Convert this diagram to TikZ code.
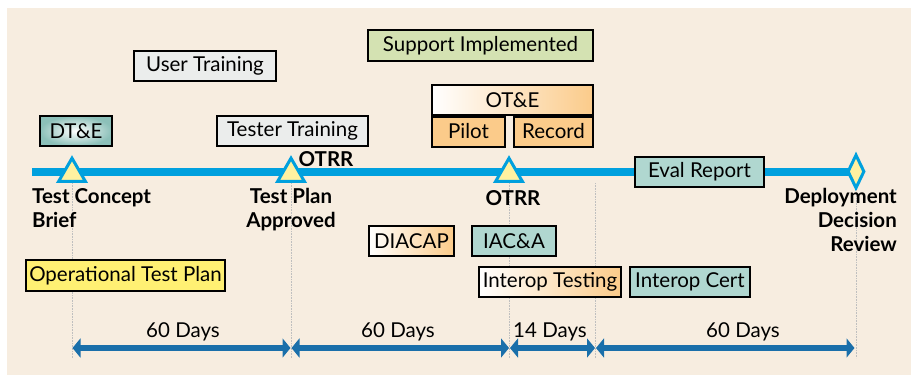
\documentclass[tikz,border=0pt]{standalone}
\usepackage{fontspec}
\setmainfont{Lato}
\usepackage{xcolor}
\usetikzlibrary{positioning, arrows.meta, shapes.geometric}
\definecolor{PaperBeige}{RGB}{247,237,224}
\definecolor{LineCyan}{RGB}{0,160,222}
\definecolor{SpanBlue}{RGB}{26,111,170}
\definecolor{MarkYellow}{RGB}{255,241,160}
\definecolor{BoxTeal}{RGB}{176,215,208}
\definecolor{DeepTeal}{RGB}{140,192,185}
\definecolor{BoxGrey}{RGB}{235,237,236}
\definecolor{BoxGreen}{RGB}{212,226,178}
\definecolor{BoxOrange}{RGB}{251,203,138}
\definecolor{BoxYellow}{RGB}{255,240,115}
\newcommand\tlfont{\fontsize{20.5}{24}\selectfont}
\tikzset{
  tbox/.style={draw=black, line width=2pt, inner sep=0pt, minimum height=30pt, font=\tlfont, align=center},
  greybox/.style={tbox, fill=BoxGrey},
  tealbox/.style={tbox, fill=BoxTeal},
  orbox/.style={tbox, fill=BoxOrange},
  fadebox/.style={tbox, left color=white, right color=BoxOrange},
  timeline/.style={line width=8pt, LineCyan},
  tri/.style={regular polygon, regular polygon sides=3, minimum size=31pt, inner sep=0pt,
    draw=LineCyan, line width=3pt, fill=MarkYellow},
  dia/.style={diamond, minimum width=17pt, minimum height=34pt, inner sep=0pt,
    draw=LineCyan, line width=3pt, fill=MarkYellow},
  mslabel/.style={font=\tlfont\bfseries, inner sep=0pt},
  daylabel/.style={font=\tlfont, inner sep=0pt},
  guide/.style={densely dotted, line width=0.6pt, black!25},
  span/.style={{Triangle[width=19pt,length=8pt]}-{Triangle[width=19pt,length=8pt]}, line width=6pt, SpanBlue,
    shorten <=0.5pt, shorten >=0.5pt},
}

\begin{document}
\begin{tikzpicture}[x=1pt, y=-1pt]
  \useasboundingbox (0,0) rectangle (911,375);
  \fill[PaperBeige] (7,8) rectangle (911,375);

  % time line and milestones
  \coordinate (tstart) at (32,172);
  \coordinate (tend) at (856,172);
  \draw[timeline] (tstart) -- (tend);
  \node[tri] (m1) at (72,173.7) {};
  \node[tri] (m2) at (291,173.7) {};
  \node[tri] (m3) at (509,173.7) {};
  \node[dia] (m4) at (856,171.5) {};
  \coordinate (t4) at (595,183);

  % guides down to the spans
  \coordinate (d1) at (72,358);
  \coordinate (d2) at (291,358);
  \coordinate (d3) at (509,358);
  \coordinate (d4) at (595,358);
  \coordinate (d5) at (856,358);
  \draw[guide] (m1.south) -- (d1);
  \draw[guide] (m2.south) -- (d2);
  \draw[guide] (m3.south) -- (d3);
  \draw[guide] (t4) -- (d4);
  \draw[guide] (m4.south) -- (d5);

  \node[mslabel, anchor=north west, align=left] (lbl1) at (32,188) {Test Concept\\Brief};
  \node[mslabel, anchor=north, align=center] (lbl2) at (291,188) {Test Plan\\Approved};
  \node[mslabel] (otrr1) at (326,159) {OTRR};
  \node[mslabel] (otrr2) at (513,198) {OTRR};
  \node[mslabel, anchor=north east, align=right] (lbl4) at (897,188) {Deployment\\Decision\\Review};

  % activities
  \node[tbox, shading=radial, inner color=white, outer color=DeepTeal, minimum width=72pt] (dte) at (76,131) {DT\&E};
  \node[greybox, minimum width=142pt] (usertr) at (205,66) {User Training};
  \node[greybox, minimum width=151pt] (testertr) at (292.5,131) {Tester Training};
  \node[tbox, fill=BoxGreen, minimum width=225pt, minimum height=31pt] (support) at (480.5,45.5) {Support Implemented};
  \node[fadebox, minimum width=161pt] (ote) at (512.5,100) {OT\&E};
  \node[orbox, minimum width=73pt] (pilot) at (468.5,131.5) {Pilot};
  \node[orbox, minimum width=79pt] (record) at (553.5,131.5) {Record};
  \node[tealbox, minimum width=129pt] (eval) at (699.5,172) {Eval Report};
  \node[fadebox, minimum width=85pt] (diacap) at (411.5,241) {DIACAP};
  \node[tealbox, minimum width=84pt] (iaca) at (514,241) {IAC\&A};
  \node[fadebox, minimum width=142pt] (inttest) at (550,282) {Interop Testing};
  \node[tealbox, minimum width=120pt] (intcert) at (690,282) {Interop Cert};
  \node[tbox, fill=BoxYellow, minimum width=199pt, minimum height=31pt] (otp) at (125.5,275.5) {Operational Test Plan};

  % day spans
  \coordinate (a1) at (72,348);
  \coordinate (a2) at (291,348);
  \coordinate (a3) at (509.5,348);
  \coordinate (a4) at (595.5,348);
  \coordinate (a5) at (855,348);
  \draw[span] (a1) -- (a2);
  \draw[span] (a2) -- (a3);
  \draw[span] (a3) -- (a4);
  \draw[span] (a4) -- (a5);
  \node[daylabel] (days1) at (183,332) {60 Days};
  \node[daylabel] (days2) at (398,332) {60 Days};
  \node[daylabel] (days3) at (550,332) {14 Days};
  \node[daylabel] (days4) at (743,332) {60 Days};
\end{tikzpicture}
\end{document}
